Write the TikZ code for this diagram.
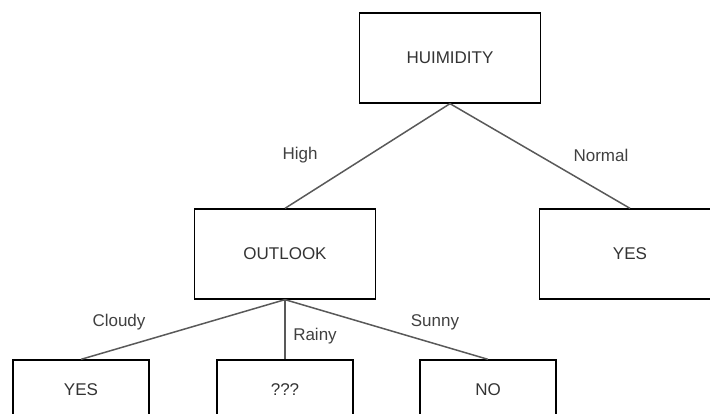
\documentclass[tikz,border=0pt]{standalone}
\usepackage{fontspec}
\setmainfont{Liberation Sans}
\usetikzlibrary{positioning}

\begin{document}
\begin{tikzpicture}[x=1pt, y=-1pt, font=\fontsize{17}{20}\selectfont,
    box/.style={draw, line width=1.3pt, minimum width=181pt, minimum height=90pt,
        text=black!80, inner sep=0pt},
    leaf/.style={box, minimum width=136pt, minimum height=60pt},
    branch/.style={draw=black!65, line width=1.5pt},
    lbl/.style={text=black!75, inner sep=0pt}]
    \clip (0,0) rectangle (710,414);

    % 1. Các nút
    \node[box] (hum) at (450,58) {HUIMIDITY};
    \node[box] (outlook) at (285,254) {OUTLOOK};
    \node[box] (yesR) at (630,254) {YES};
    \node[leaf] (yesL) at (81,390) {YES};
    \node[leaf] (unk) at (285,390) {???};
    \node[leaf] (no) at (488,390) {NO};

    % 2. Các nhánh
    \draw[branch] (hum.south) -- (outlook.north);
    \draw[branch] (hum.south) -- (yesR.north);
    \draw[branch] (outlook.south) -- (yesL.north);
    \draw[branch] (outlook.south) -- (unk.north);
    \draw[branch] (outlook.south) -- (no.north);

    % 3. Nhãn
    \node[lbl] (high) at (300,155) {High};
    \node[lbl] (normal) at (601,155) {Normal};
    \node[lbl] (cloudy) at (119,322) {Cloudy};
    \node[lbl] (rainy) at (315,336) {Rainy};
    \node[lbl] (sunny) at (435,322) {Sunny};
\end{tikzpicture}
\end{document}
